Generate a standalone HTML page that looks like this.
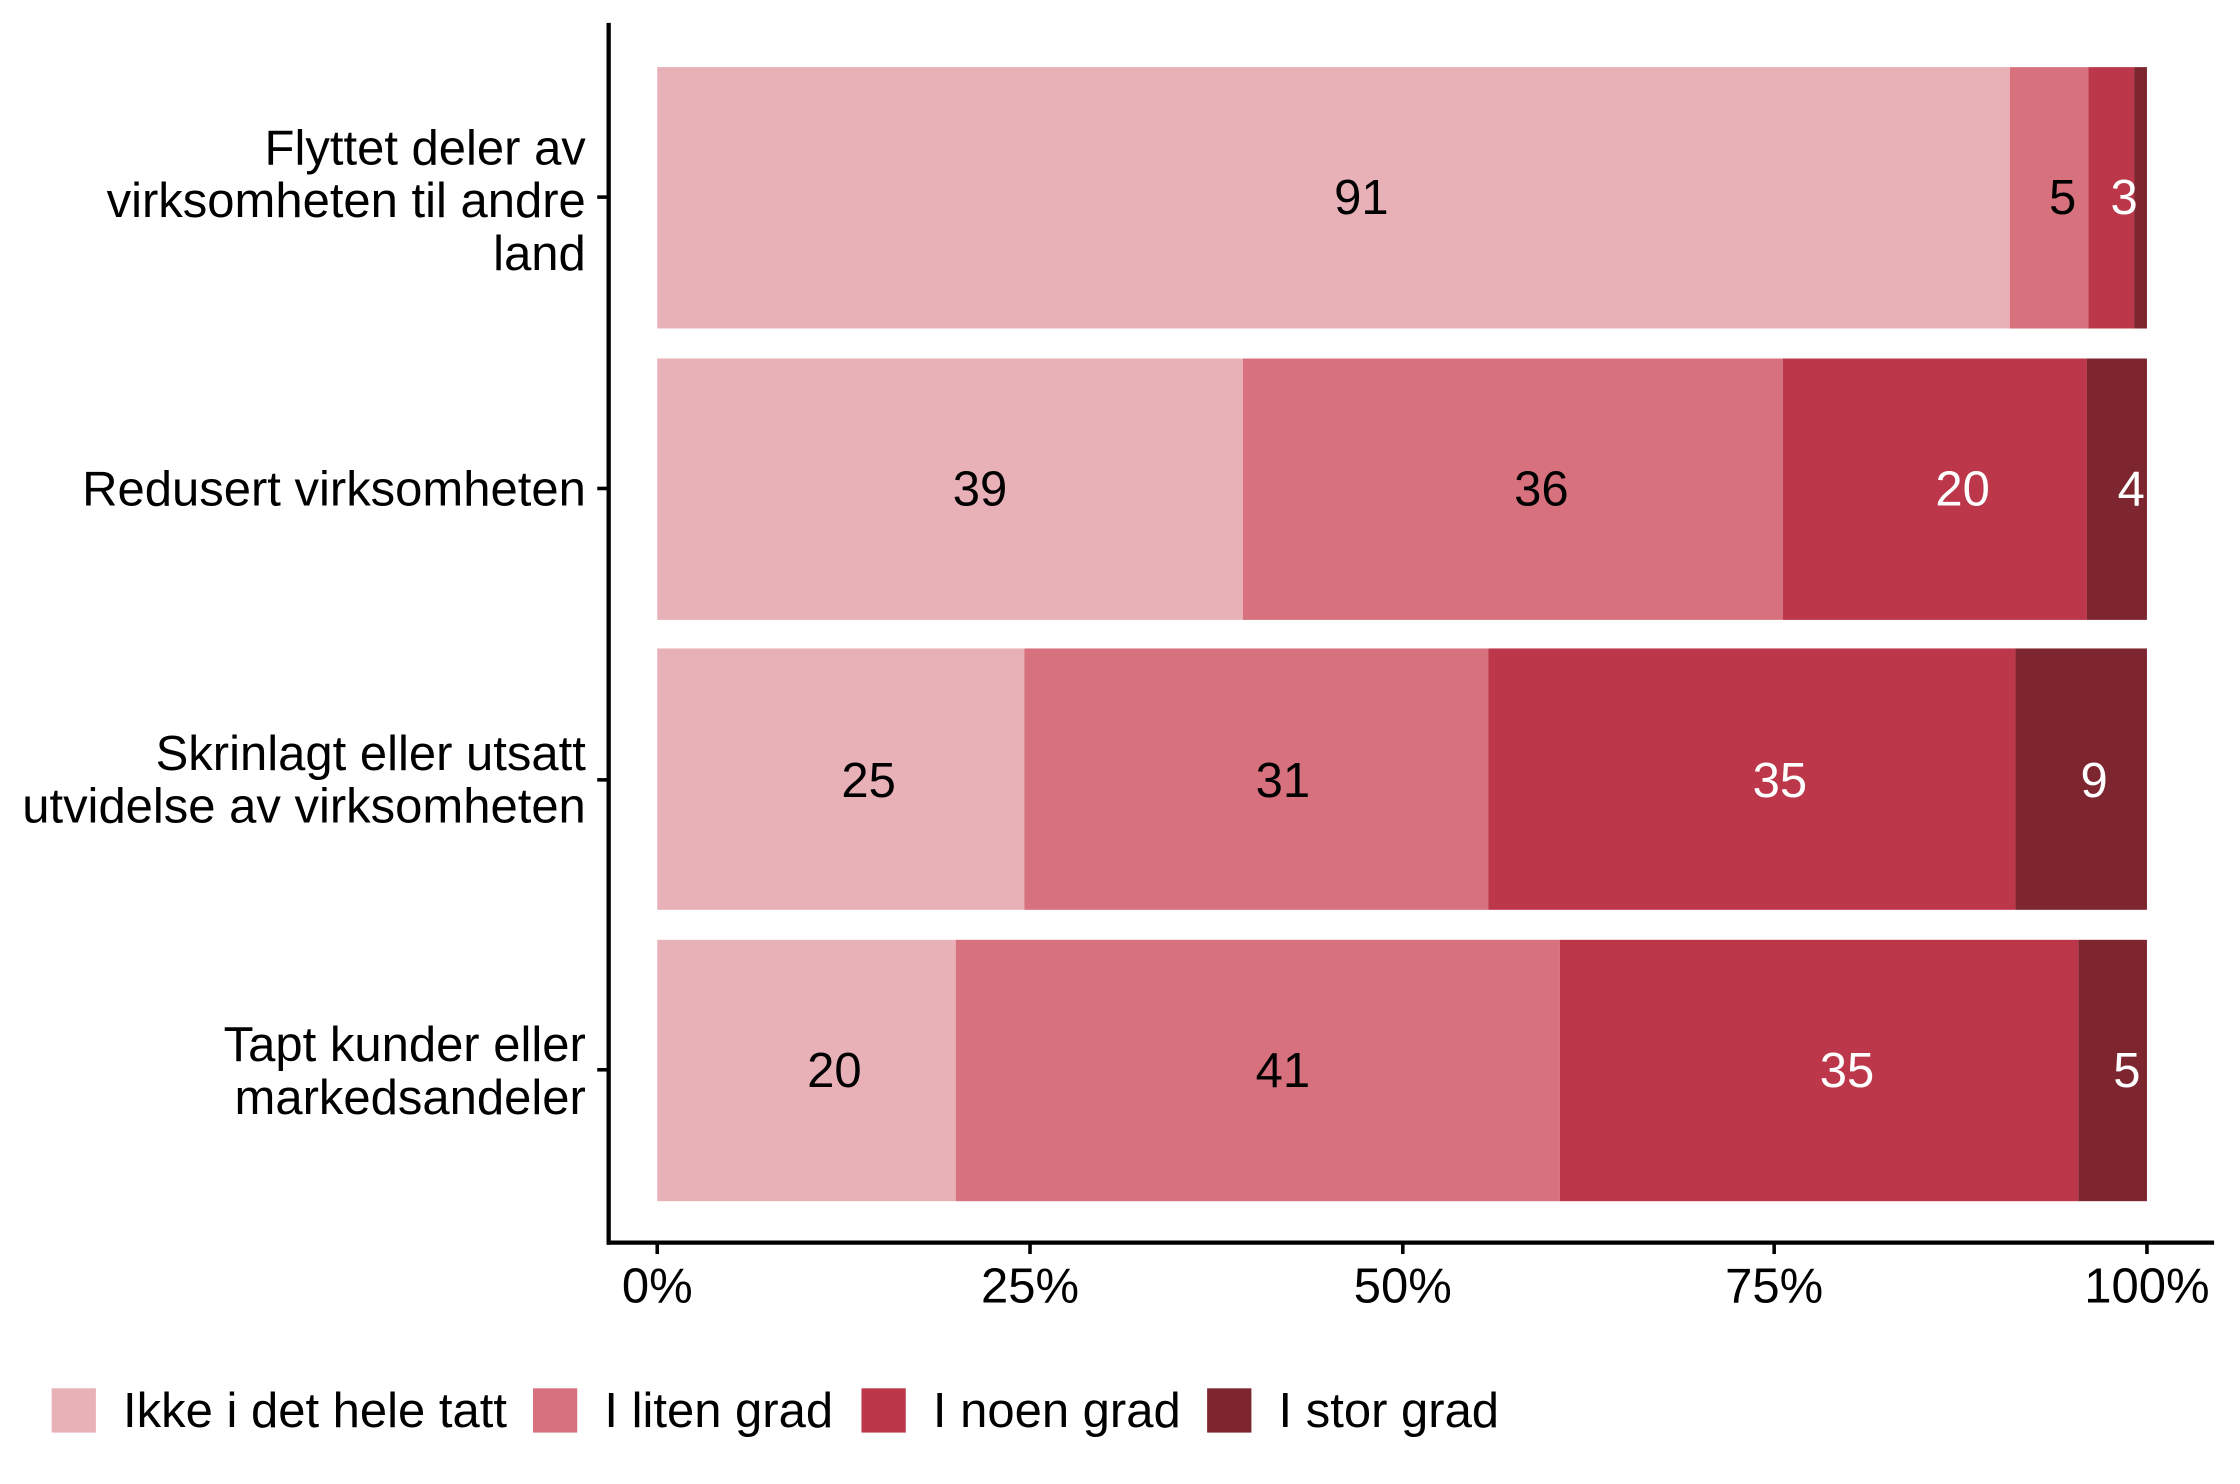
<!DOCTYPE html>
<html><head><meta charset="utf-8"><style>html,body{margin:0;padding:0;background:#fff}svg{display:block}</style></head>
<body>
<svg width="2240" height="1484" viewBox="0 0 1568 1039" xmlns="http://www.w3.org/2000/svg" font-family="Liberation Sans, Arial, sans-serif">
<rect width="1568" height="1039" fill="#fff"/>
<rect x="460" y="47" width="947" height="183" fill="#E8B1B7"/>
<rect x="1407" y="47" width="55" height="183" fill="#D6717D"/>
<rect x="1462" y="47" width="32" height="183" fill="#BC374A"/>
<rect x="1494" y="47" width="9" height="183" fill="#7E2630"/>
<rect x="460" y="251" width="410" height="183" fill="#E8B1B7"/>
<rect x="870" y="251" width="378" height="183" fill="#D6717D"/>
<rect x="1248" y="251" width="213" height="183" fill="#BC374A"/>
<rect x="1461" y="251" width="42" height="183" fill="#7E2630"/>
<rect x="460" y="454" width="257" height="183" fill="#E8B1B7"/>
<rect x="717" y="454" width="325" height="183" fill="#D6717D"/>
<rect x="1042" y="454" width="369" height="183" fill="#BC374A"/>
<rect x="1411" y="454" width="92" height="183" fill="#7E2630"/>
<rect x="460" y="658" width="209" height="183" fill="#E8B1B7"/>
<rect x="669" y="658" width="423" height="183" fill="#D6717D"/>
<rect x="1092" y="658" width="363" height="183" fill="#BC374A"/>
<rect x="1455" y="658" width="48" height="183" fill="#7E2630"/>
<g font-size="34.3" text-anchor="middle">
<text x="953" y="150">91</text><text x="1444" y="150">5</text><text x="1487" y="150" fill="#fff">3</text>
<text x="686" y="354">39</text><text x="1079" y="354">36</text><text x="1374" y="354" fill="#fff">20</text><text x="1492" y="354" fill="#fff">4</text>
<text x="608" y="558">25</text><text x="898" y="558">31</text><text x="1246" y="558" fill="#fff">35</text><text x="1466" y="558" fill="#fff">9</text>
<text x="584" y="761">20</text><text x="898" y="761">41</text><text x="1293" y="761" fill="#fff">35</text><text x="1489" y="761" fill="#fff">5</text>
</g>
<line x1="426" y1="16" x2="426" y2="871.5" stroke="#000" stroke-width="3"/>
<line x1="424.5" y1="870" x2="1550" y2="870" stroke="#000" stroke-width="3"/>
<g stroke="#000" stroke-width="2.5">
<line x1="418" y1="138" x2="426" y2="138"/><line x1="418" y1="342" x2="426" y2="342"/>
<line x1="418" y1="546" x2="426" y2="546"/><line x1="418" y1="749" x2="426" y2="749"/>
<line x1="460" y1="870" x2="460" y2="878"/><line x1="721" y1="870" x2="721" y2="878"/>
<line x1="982" y1="870" x2="982" y2="878"/><line x1="1242" y1="870" x2="1242" y2="878"/>
<line x1="1503" y1="870" x2="1503" y2="878"/>
</g>
<g font-size="34.3" text-anchor="middle">
<text x="460" y="912">0%</text><text x="721" y="912">25%</text><text x="982" y="912">50%</text><text x="1242" y="912">75%</text><text x="1503" y="912">100%</text>
</g>
<g font-size="34.3" text-anchor="end">
<text x="410" y="115">Flyttet deler av</text>
<text x="410" y="152">virksomheten til andre</text>
<text x="410" y="189">land</text>
<text x="410" y="354">Redusert virksomheten</text>
<text x="410" y="539">Skrinlagt eller utsatt</text>
<text x="410" y="576">utvidelse av virksomheten</text>
<text x="410" y="743">Tapt kunder eller</text>
<text x="410" y="780">markedsandeler</text>
</g>
<rect x="36" y="972" width="31" height="31" fill="#E8B1B7"/>
<rect x="373" y="972" width="31" height="31" fill="#D6717D"/>
<rect x="603" y="972" width="31" height="31" fill="#BC374A"/>
<rect x="845" y="972" width="31" height="31" fill="#7E2630"/>
<g font-size="34.3">
<text x="86" y="999">Ikke i det hele tatt</text>
<text x="423" y="999">I liten grad</text>
<text x="653" y="999">I noen grad</text>
<text x="895" y="999">I stor grad</text>
</g>
</svg>
</body></html>
